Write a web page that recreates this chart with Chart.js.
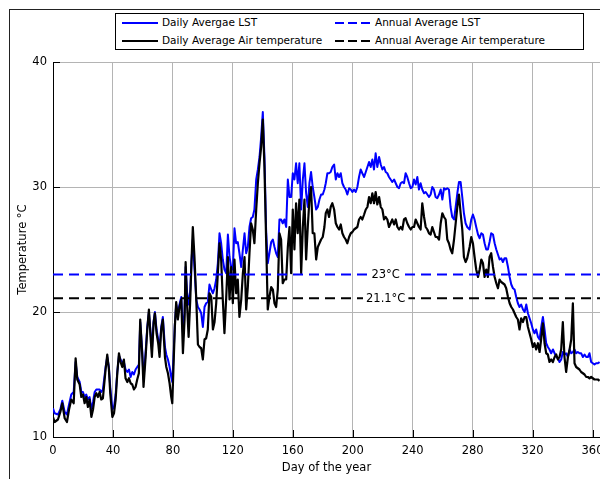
<!DOCTYPE html>
<html lang="en">
<head>
    <meta charset="UTF-8">
    <title>Daily LST and Air Temperature</title>
    <style>
        body {
            margin: 0;
            width: 600px;
            height: 479px;
            overflow: hidden;
            background-color: #fff;
            font-family: "DejaVu Sans", Verdana, sans-serif;
        }
        .frame {
            position: absolute;
            left: 9px;
            top: 9px;
            width: 620px;
            height: 500px;
            border-left: 1px solid #222;
            border-top: 1px solid #222;
        }
        .chart-box {
            position: absolute;
            left: 0;
            top: 0;
            width: 612px;
            height: 479px;
        }
        .legend {
            position: absolute;
            left: 115px;
            top: 13px;
            width: 469px;
            height: 37px;
            box-sizing: border-box;
            border: 1px solid #000;
            background-color: #fff;
        }
        .legend-item {
            position: absolute;
            height: 16px;
            line-height: 16px;
            font-size: 10.5px;
            color: #000;
            white-space: nowrap;
        }
        .legend-item .swatch {
            display: inline-block;
            width: 36px;
            height: 2px;
            margin-right: 4px;
            vertical-align: middle;
        }
    </style>
    <script src="https://cdn.jsdelivr.net/npm/chart.js"></script>
</head>
<body>
<div class="frame"></div>
<div class="chart-box"><canvas id="tempChart"></canvas></div>
<div class="legend" id="legend"></div>

<script>
    // day of the year for each reading
    const days = [
        0, 1.1, 3.3, 4.9, 6.2, 7.8, 9.3, 10.7, 12.2, 13.8, 15.1, 16.2, 17.8, 18.9, 20.0, 21.1, 22.2, 23.3, 24.4, 25.6,
        26.7, 27.8, 28.9, 30.0, 31.1, 32.2, 33.3, 35.1, 36.2, 37.3, 38.2, 39.6, 40.7, 41.8, 42.9, 44.0, 45.1, 46.2, 47.3, 48.4,
        49.6, 50.7, 51.8, 52.9, 54.0, 55.1, 56.2, 57.3, 58.2, 59.6, 60.4, 61.8, 62.9, 64.0, 65.1, 66.0, 67.1, 68.0, 69.1, 70.2,
        71.1, 72.2, 73.3, 74.7, 75.6, 76.7, 77.8, 78.9, 79.6, 80.4, 81.3, 82.2, 83.3, 84.4, 85.6, 86.7, 87.8, 88.5, 89.5, 90.5,
        91.6, 92.4, 93.3, 94.4, 95.6, 96.7, 97.8, 98.9, 100.0, 101.1, 102.2, 103.3, 104.4, 105.6, 106.7, 107.8, 108.9, 110.0, 111.1, 112.2,
        113.3, 114.4, 115.6, 116.7, 117.8, 118.9, 120.0, 121.1, 122.2, 123.3, 124.4, 125.6, 126.7, 127.8, 128.9, 130.0, 131.1, 132.2, 133.3, 134.4,
        135.6, 136.7, 137.8, 138.9, 140.0, 141.1, 142.2, 143.3, 144.4, 145.6, 146.7, 147.8, 148.9, 150.0, 151.1, 152.2, 153.3, 154.4, 155.6, 156.7,
        157.8, 158.9, 160.0, 161.1, 162.2, 163.3, 164.4, 165.6, 166.7, 167.8, 168.9, 170.0, 171.1, 172.2, 173.3, 174.4, 175.6, 176.7, 177.8, 178.9,
        180.0, 181.1, 182.0, 183.1, 184.2, 185.3, 186.4, 187.6, 188.7, 189.8, 190.9, 192.0, 193.1, 194.2, 195.3, 196.4, 197.6, 198.7, 199.8, 200.9,
        202.0, 203.1, 204.2, 205.3, 206.4, 207.6, 208.7, 209.8, 210.9, 212.0, 213.1, 214.2, 215.3, 216.4, 217.6, 218.7, 219.8, 220.9, 222.0, 223.1,
        224.2, 225.3, 226.4, 227.6, 228.7, 229.8, 230.9, 232.0, 233.1, 234.2, 235.3, 236.4, 237.6, 238.7, 239.8, 240.9, 242.0, 243.1, 244.2, 245.3,
        246.4, 247.6, 248.7, 249.8, 250.9, 252.0, 253.1, 254.2, 255.3, 256.4, 257.6, 258.7, 259.8, 260.9, 262.0, 263.1, 264.2, 265.3, 266.4, 267.6,
        268.7, 269.8, 270.9, 272.0, 273.1, 274.2, 275.3, 276.4, 278.0, 279.1, 280.2, 281.3, 282.4, 283.6, 284.7, 285.8, 286.9, 288.0, 289.1, 290.2,
        291.3, 292.4, 293.6, 294.7, 295.8, 296.9, 298.0, 299.1, 300.2, 301.3, 302.4, 303.6, 304.7, 305.8, 306.9, 308.0, 309.1, 310.2, 311.3, 312.4,
        313.6, 314.7, 315.8, 316.9, 318.0, 319.1, 320.2, 321.3, 322.4, 323.6, 324.7, 325.8, 326.9, 328.0, 329.1, 330.2, 331.3, 332.4, 333.6, 334.7,
        335.8, 336.9, 338.0, 339.1, 340.2, 341.3, 342.4, 343.6, 344.7, 345.8, 346.9, 348.0, 349.1, 350.2, 351.3, 352.4, 353.6, 354.7, 355.8, 356.9,
        358.0, 359.1, 360.2, 361.3, 362.4, 363.6, 364.7
    ];

    // daily average land surface temperature (blue)
    const dailyLST = [
        12.3, 11.9, 11.8, 12.2, 12.9, 12.0, 11.8, 12.6, 13.4, 13.6, 16.0, 14.8, 14.4, 13.6, 13.6, 13.2, 13.4, 13.0, 13.2, 12.2,
        12.8, 13.6, 13.8, 13.8, 13.8, 13.6, 13.8, 15.6, 16.4, 15.6, 14.0, 12.2, 12.4, 13.4, 15.2, 16.5, 16.2, 16.0, 16.0, 15.4,
        15.2, 15.4, 14.8, 15.2, 15.0, 15.4, 15.6, 15.8, 19.2, 16.8, 14.6, 16.8, 18.8, 20.0, 18.4, 17.0, 19.2, 20.0, 18.6, 17.8,
        17.0, 18.8, 19.6, 17.2, 16.6, 16.2, 15.6, 14.8, 14.4, 16.4, 19.0, 20.6, 19.8, 20.6, 21.2, 18.4, 20.0, 23.6, 21.5, 20.6,
        21.8, 24.0, 25.8, 23.5, 21.0, 20.4, 20.2, 19.9, 18.8, 20.4, 20.7, 20.8, 22.2, 21.8, 21.5, 21.9, 22.6, 23.9, 26.3, 25.5,
        24.2, 23.4, 23.1, 26.2, 24.4, 23.6, 23.4, 26.7, 25.5, 25.6, 24.7, 23.6, 25.0, 26.3, 24.7, 25.2, 26.8, 27.5, 27.6, 28.2,
        30.6, 31.4, 32.4, 34.0, 36.0, 32.4, 26.6, 23.9, 24.7, 25.6, 25.8, 25.2, 24.7, 24.4, 27.4, 27.4, 27.1, 27.4, 26.8, 30.6,
        29.2, 29.2, 31.1, 30.6, 31.9, 30.3, 31.9, 28.2, 30.6, 31.9, 29.5, 28.4, 30.3, 31.2, 30.0, 29.2, 28.2, 28.4, 29.0, 29.4,
        29.4, 29.8, 30.3, 31.1, 31.1, 31.2, 31.6, 31.8, 30.6, 31.1, 30.8, 31.1, 30.3, 30.0, 29.8, 29.4, 29.9, 29.8, 29.6, 29.8,
        29.6, 30.0, 30.8, 31.4, 31.1, 30.8, 31.2, 31.6, 32.0, 31.6, 32.2, 31.4, 32.7, 31.6, 32.4, 31.8, 31.4, 31.6, 31.2, 31.1,
        30.8, 30.6, 30.4, 30.6, 30.3, 30.0, 29.9, 30.3, 30.4, 30.3, 31.1, 30.8, 30.3, 29.9, 30.0, 30.6, 30.2, 30.8, 29.8, 30.3,
        29.8, 29.5, 29.6, 29.4, 29.2, 29.4, 30.0, 29.8, 29.2, 29.1, 29.4, 29.8, 29.0, 29.9, 29.8, 29.9, 29.8, 28.4, 27.6, 27.4,
        28.4, 29.5, 30.4, 30.4, 29.2, 27.9, 27.1, 26.8, 26.6, 27.4, 27.8, 27.4, 26.8, 26.2, 25.9, 26.3, 26.2, 25.5, 25.0, 25.0,
        25.6, 26.3, 26.2, 25.5, 25.0, 24.6, 24.2, 24.3, 24.0, 24.3, 24.3, 23.6, 22.8, 22.2, 21.9, 21.8, 21.2, 20.7, 20.4, 20.6,
        20.2, 20.0, 20.6, 19.9, 19.5, 19.1, 18.6, 18.3, 18.6, 18.0, 17.8, 18.8, 19.6, 18.6, 17.5, 17.2, 17.0, 16.7, 17.0, 16.7,
        16.4, 16.3, 16.0, 16.2, 16.8, 16.6, 16.7, 16.4, 17.0, 16.7, 16.8, 17.0, 16.7, 16.8, 16.7, 16.7, 16.4, 16.6, 16.4, 16.4,
        16.7, 16.0, 15.9, 15.8, 15.9, 15.9, 16.0
    ];

    // daily average air temperature (black)
    const dailyAir = [
        11.6, 11.2, 11.4, 12.0, 12.7, 11.5, 11.2, 12.2, 13.0, 12.7, 16.3, 14.6, 14.2, 13.2, 13.4, 12.7, 13.2, 12.4, 13.0, 11.6,
        12.2, 13.2, 13.5, 13.2, 13.6, 13.0, 13.1, 15.4, 16.6, 15.4, 13.5, 11.6, 11.9, 13.0, 15.1, 16.7, 16.0, 15.6, 16.2, 14.7,
        14.4, 14.7, 14.3, 14.2, 13.8, 14.0, 14.6, 15.1, 19.4, 16.4, 14.0, 16.4, 18.6, 20.2, 18.0, 16.4, 19.1, 19.9, 18.3, 17.5,
        16.4, 18.6, 19.4, 16.4, 15.6, 15.1, 14.3, 13.2, 12.7, 15.6, 18.8, 20.8, 19.4, 20.4, 21.0, 16.7, 19.4, 24.0, 20.5, 18.0,
        21.0, 24.0, 26.8, 24.4, 21.0, 17.4, 17.2, 17.1, 16.2, 17.8, 17.9, 18.6, 21.5, 21.2, 18.6, 19.2, 20.7, 23.1, 25.5, 24.2,
        21.0, 18.3, 21.2, 24.4, 21.0, 23.6, 20.7, 24.2, 21.5, 22.6, 19.6, 21.0, 23.1, 24.4, 20.2, 22.0, 24.7, 27.1, 26.6, 25.5,
        28.2, 30.3, 31.9, 33.2, 35.4, 31.6, 25.8, 20.2, 21.2, 22.0, 21.8, 20.7, 20.4, 21.8, 26.3, 25.8, 22.3, 22.6, 22.6, 25.2,
        26.8, 23.1, 28.2, 25.0, 28.7, 26.3, 29.0, 23.1, 26.8, 29.0, 24.2, 26.8, 29.0, 30.0, 26.3, 26.3, 24.2, 25.2, 25.5, 25.8,
        26.0, 26.8, 27.9, 28.2, 27.6, 28.4, 28.7, 28.2, 27.1, 26.8, 26.6, 27.0, 26.3, 26.0, 25.8, 25.5, 26.0, 26.3, 26.4, 26.6,
        26.7, 26.8, 27.4, 27.6, 27.4, 27.8, 28.2, 28.4, 29.2, 28.7, 29.5, 28.7, 29.6, 28.6, 29.2, 28.4, 28.2, 27.4, 27.6, 27.4,
        26.8, 27.1, 27.4, 27.0, 27.4, 26.8, 26.6, 26.8, 26.6, 27.4, 27.5, 27.1, 26.8, 26.6, 26.8, 26.8, 27.4, 27.1, 26.8, 26.6,
        28.7, 27.6, 26.8, 26.6, 26.3, 26.2, 26.8, 26.4, 26.0, 26.0, 25.8, 27.1, 27.9, 27.6, 27.4, 25.8, 25.5, 25.0, 24.7, 25.8,
        27.1, 28.4, 29.4, 27.9, 26.6, 24.4, 24.0, 24.3, 25.2, 26.0, 25.5, 24.4, 23.4, 22.8, 23.4, 24.2, 23.9, 22.8, 23.4, 22.8,
        24.4, 24.7, 23.6, 22.8, 22.3, 21.9, 22.6, 22.4, 22.3, 22.2, 21.9, 21.2, 20.7, 20.4, 20.2, 19.9, 19.6, 19.4, 18.6, 19.5,
        19.2, 19.6, 19.6, 18.8, 18.3, 17.8, 17.2, 17.5, 17.0, 17.5, 16.8, 17.9, 19.1, 17.5, 16.7, 16.6, 16.0, 16.2, 16.0, 16.4,
        16.6, 16.2, 16.4, 17.0, 19.2, 16.4, 15.2, 16.4, 17.0, 17.8, 20.7, 15.9, 15.6, 15.5, 15.4, 15.2, 15.1, 15.0, 14.8, 14.8,
        14.7, 14.8, 14.7, 14.6, 14.6, 14.6, 14.5
    ];

    // annual averages (dashed lines)
    const annualLST = 23;
    const annualAir = 21.1;

    const dayRange = [0, 365];
    const xTickStep = 40;
    const tempRange = [10, 40];
    const yTickStep = 10;

    const toPoints = values => values.map((v, i) => ({ x: days[i], y: v }));
    const flatLine = v => dayRange.map(d => ({ x: d, y: v }));

    // small inward tick marks on the bottom and left axes
    const inwardTicks = {
        id: 'inwardTicks',
        afterDatasetsDraw(chart) {
            const { ctx, chartArea, scales: { x, y } } = chart;
            ctx.save();
            ctx.strokeStyle = '#000';
            ctx.lineWidth = 1;
            ctx.beginPath();
            x.ticks.forEach(t => {
                const px = Math.round(x.getPixelForValue(t.value)) + 0.5;
                ctx.moveTo(px, chartArea.bottom);
                ctx.lineTo(px, chartArea.bottom - 7);
            });
            y.ticks.forEach(t => {
                const py = Math.round(y.getPixelForValue(t.value)) + 0.5;
                ctx.moveTo(chartArea.left, py);
                ctx.lineTo(chartArea.left + 7, py);
            });
            ctx.stroke();
            ctx.restore();
        }
    };

    // value labels sitting on the dashed average lines
    const averageLabels = {
        id: 'averageLabels',
        afterDatasetsDraw(chart) {
            const { ctx, scales: { x, y } } = chart;
            const px = x.getPixelForValue(222);
            ctx.save();
            ctx.font = '11.5px "DejaVu Sans"';
            ctx.textAlign = 'center';
            ctx.textBaseline = 'middle';
            [annualLST, annualAir].forEach(v => {
                const text = v + '°C';
                const w = ctx.measureText(text).width + 6;
                const py = y.getPixelForValue(v);
                ctx.fillStyle = '#fff';
                ctx.fillRect(px - w / 2, py - 6, w, 12);
                ctx.fillStyle = '#000';
                ctx.fillText(text, px, py + 0.5);
            });
            ctx.restore();
        }
    };

    const axisFont = { family: '"DejaVu Sans"', size: 11.5 };

    const chart = new Chart(document.getElementById('tempChart'), {
        type: 'line',
        data: {
            datasets: [
                {
                    label: 'Daily Avergae LST',
                    data: toPoints(dailyLST),
                    borderColor: '#0000ff',
                    borderWidth: 2,
                    order: 4
                },
                {
                    label: 'Daily Average Air temperature',
                    data: toPoints(dailyAir),
                    borderColor: '#000000',
                    borderWidth: 2.2,
                    order: 3
                },
                {
                    label: 'Annual Average LST',
                    data: flatLine(annualLST),
                    borderColor: '#0000ff',
                    borderWidth: 2,
                    borderDash: [10, 6],
                    order: 2
                },
                {
                    label: 'Annual Average Air temperature',
                    data: flatLine(annualAir),
                    borderColor: '#000000',
                    borderWidth: 2,
                    borderDash: [10, 6],
                    order: 1
                }
            ]
        },
        options: {
            responsive: true,
            maintainAspectRatio: false,
            animation: false,
            layout: { padding: { left: 0, top: 62, right: 12, bottom: 0 } },
            elements: {
                point: { radius: 0 },
                line: { tension: 0, fill: false, borderJoinStyle: 'round' }
            },
            plugins: {
                legend: { display: false },
                tooltip: { enabled: false }
            },
            scales: {
                x: {
                    type: 'linear',
                    min: dayRange[0],
                    max: dayRange[1],
                    afterFit: scale => { scale.height = 42; },
                    ticks: {
                        stepSize: xTickStep,
                        includeBounds: false,
                        color: '#000',
                        font: axisFont,
                        padding: 7,
                        maxRotation: 0
                    },
                    grid: { color: '#b4b4b4', drawTicks: false },
                    border: { color: '#000', width: 1 },
                    title: {
                        display: true,
                        text: 'Day of the year',
                        color: '#000',
                        font: axisFont,
                        padding: { top: 0, bottom: 4 }
                    }
                },
                y: {
                    min: tempRange[0],
                    max: tempRange[1],
                    afterFit: scale => { scale.width = 53; },
                    ticks: {
                        stepSize: yTickStep,
                        color: '#000',
                        font: axisFont,
                        padding: 6
                    },
                    grid: { color: '#b4b4b4', drawTicks: false },
                    border: { color: '#000', width: 1 },
                    title: {
                        display: true,
                        text: 'Temperature °C',
                        color: '#000',
                        font: axisFont,
                        padding: { top: 16, bottom: 0 }
                    }
                }
            }
        },
        plugins: [inwardTicks, averageLabels]
    });

    // legend box: two columns, daily series on the left, averages on the right
    const legendSlots = [
        { left: 6, top: 0 },
        { left: 6, top: 18 },
        { left: 219, top: 0 },
        { left: 219, top: 18 }
    ];
    const legendBox = document.getElementById('legend');
    chart.data.datasets.forEach((ds, i) => {
        const item = document.createElement('div');
        item.className = 'legend-item';
        item.style.left = legendSlots[i].left + 'px';
        item.style.top = legendSlots[i].top + 'px';
        const swatch = document.createElement('span');
        swatch.className = 'swatch';
        if (ds.borderDash) {
            swatch.style.background = `repeating-linear-gradient(to right, ${ds.borderColor} 0 9px, transparent 9px 13px)`;
        } else {
            swatch.style.background = ds.borderColor;
        }
        item.appendChild(swatch);
        item.appendChild(document.createTextNode(ds.label));
        legendBox.appendChild(item);
    });
</script>
</body>
</html>
